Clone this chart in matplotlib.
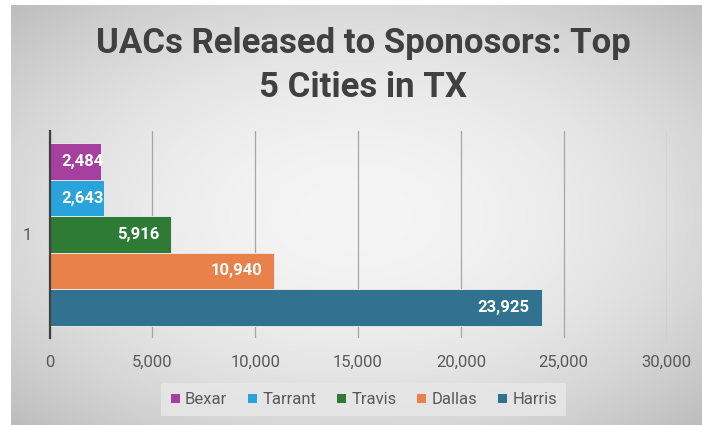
import matplotlib.pyplot as plt
import numpy as np

# --- Data ---
cities = ['Bexar', 'Tarrant', 'Travis', 'Dallas', 'Harris']
released = [2484, 2643, 5916, 10940, 23925]
colors = ['#A5409F', '#28A3DB', '#2E7B35', '#E9814A', '#317290']
category = '1'
xticks = [0, 5000, 10000, 15000, 20000, 25000, 30000]
title_lines = ['UACs Released to Sponosors: Top', '5 Cities in TX']

fnt = ['Roboto', 'DejaVu Sans']
W, H = 702, 425

fig = plt.figure(figsize=(W / 100, H / 100), dpi=100, facecolor='white')

# radial grey background (chart area)
ax_bg = fig.add_axes([11 / W, 0, 1 - 11 / W, 1 - 5 / H])
yy, xx = np.mgrid[-1:1:420j, -1:1:690j]
g = 0.96 - 0.11 * (xx ** 2 + yy ** 2)
ax_bg.imshow(np.dstack([g, g, g]), aspect='auto', extent=[0, 1, 0, 1],
             interpolation='bilinear', zorder=0)
ax_bg.axis('off')

# --- Plot area ---
ax = fig.add_axes([49.5 / W, 1 - 338 / H, 617 / W, 207 / H])
ax.set_facecolor('none')

ypos = np.arange(len(cities))[::-1]  # Bexar on top
bars = ax.barh(ypos, released, height=1.0, color=colors,
               edgecolor='#e6e6e6', linewidth=0.7, zorder=3)

ax.set_xlim(0, 30000)
ax.set_ylim(-0.84, len(cities) - 1 + 0.84)
ax.set_xticks(xticks)
ax.set_xticklabels([f'{v:,}' for v in xticks])
ax.set_yticks([np.mean(ypos)])
ax.set_yticklabels([category])
ax.tick_params(axis='x', length=0, pad=12, labelsize=12, labelcolor='#595959')
ax.tick_params(axis='y', length=0, pad=13, labelsize=12, labelcolor='#595959')
for lab in ax.get_xticklabels() + ax.get_yticklabels():
    lab.set_family(fnt)

ax.grid(axis='x', color='#a6a6a6', lw=0.9, zorder=1)
for s in ['top', 'right', 'bottom']:
    ax.spines[s].set_visible(False)
ax.spines['left'].set_color('#404040')
ax.spines['left'].set_linewidth(1.6)
ax.spines['left'].set_zorder(4)

# data labels (inside end, pushed right if the bar is too short)
fig.canvas.draw()
rend = fig.canvas.get_renderer()
for y, v in zip(ypos, released):
    t = ax.annotate(f'{v:,}', xy=(v, y), xytext=(-12, 0), textcoords='offset pixels',
                    ha='right', va='center', color='white', fontsize=12,
                    fontweight='bold', family=fnt, zorder=5)
    tw = t.get_window_extent(rend).width
    bw = ax.transData.transform((v, 0))[0] - ax.transData.transform((0, 0))[0]
    if bw < tw + 24:
        t.xy = (0, y)
        t.xyann = (12, 0)
        t.set_ha('left')

# title (two lines, baselines placed separately)
for line, base in zip(title_lines, [53, 97]):
    fig.text(363 / W, 1 - base / H, line, ha='center', va='baseline', fontsize=25,
             fontweight='bold', color='#404040', family=fnt)

# legend
leg = fig.legend(bars, cities, loc='center', bbox_to_anchor=(363.5 / W, 1 - 399.5 / H),
                 ncol=5, frameon=True, handlelength=0.6, handleheight=0.6,
                 handletextpad=0.3, columnspacing=1.2, borderpad=0.55,
                 prop={'family': fnt, 'size': 12})
leg.get_frame().set_facecolor('#e6e6e6')
leg.get_frame().set_edgecolor('none')
leg.get_frame().set_alpha(0.9)
leg.get_frame().set_boxstyle('square', pad=0.0)
for txt in leg.get_texts():
    txt.set_color('#595959')

fig.savefig('out.png', dpi=100)
